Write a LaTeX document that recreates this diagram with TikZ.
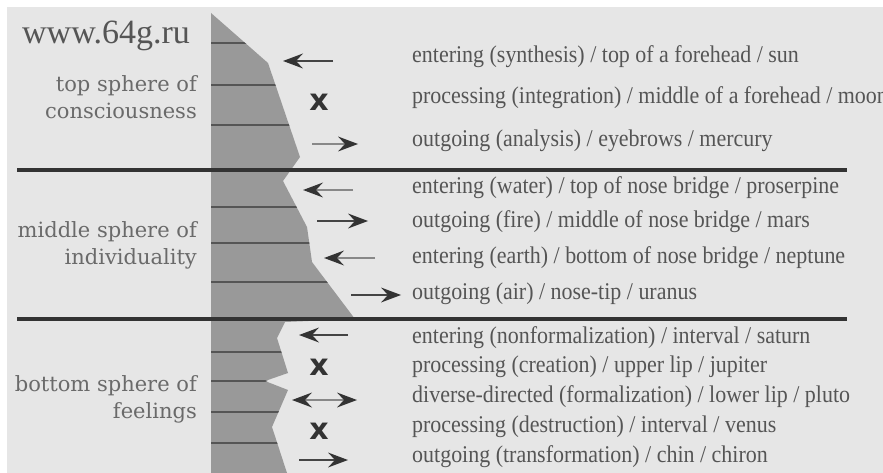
\documentclass[tikz,border=0pt]{standalone}
\usepackage{fontspec}
\setmainfont{Liberation Serif}
\newfontfamily\labelfont{DejaVu Serif}
\newfontfamily\xfont{DejaVu Sans}
\definecolor{bgc}{HTML}{E6E6E6}
\definecolor{polyc}{HTML}{999999}
\definecolor{thinc}{HTML}{555555}
\definecolor{thickc}{HTML}{333333}
\definecolor{txtc}{HTML}{555555}
\definecolor{lblc}{HTML}{6A6A6A}
\definecolor{headc}{HTML}{333333}
\definecolor{shaftd}{HTML}{444444}
\definecolor{shaftl}{HTML}{888888}
\newcommand\nt[1]{\scalebox{0.915}[1]{#1}}
% arrow with left-pointing head: tail x, tip x, y, shaft colour
\newcommand\arrL[4]{%
  \draw[shaft, draw=#4] (#1,#3) -- ({#2+13},#3);
  \fill[headc] (#2,#3) -- ++(20,-7.5) -- ++(-7,7.5) -- ++(7,7.5) -- cycle;}
% arrow with right-pointing head: tail x, tip x, y, shaft colour
\newcommand\arrR[4]{%
  \draw[shaft, draw=#4] (#1,#3) -- ({#2-13},#3);
  \fill[headc] (#2,#3) -- ++(-20,-7.5) -- ++(7,7.5) -- ++(-7,7.5) -- cycle;}
\tikzset{
  rt/.style={anchor=west, inner sep=0pt, text height=16pt, text depth=5.5pt,
    font=\fontsize{24}{28}\selectfont, text=txtc},
  lbl/.style={anchor=east, align=right, inner sep=0pt,
    font=\labelfont\fontsize{21}{27}\selectfont, text=lblc},
  xmark/.style={inner sep=0pt, font=\xfont\bfseries\fontsize{30}{30}\selectfont, text=headc},
  shaft/.style={line width=2.3pt},
  thinline/.style={draw=thinc, line width=2pt},
  thickline/.style={draw=thickc, line width=4pt}
}
\begin{document}
\begin{tikzpicture}[x=1pt,y=-1pt]
\useasboundingbox (0,0) rectangle (883,473);
\clip (0,0) rectangle (883,473);
\fill[white] (0,0) rectangle (883,473);
\fill[bgc] (7,7) rectangle (883,473);
% gray column
\def\colpath{(211,13) -- (268,63) -- (300,157) -- (283,181) -- (307,227) -- (312,262) -- (355,319) -- (285,322) -- (277,338) -- (288,373) -- (265,381) -- (288,390) -- (272,427) -- (287,473) -- (211,473) -- cycle}
\fill[polyc] \colpath;
\begin{scope}
\clip \colpath;
\foreach \yy in {43,85,125,207,243,282,352,381,412,443}
  \draw[thinline] (211,\yy) -- (400,\yy);
\end{scope}
% thick separators
\draw[thickline] (17,170) -- (847,170);
\draw[thickline] (17,319) -- (847,319);
% title and labels
\node[inner sep=0pt, anchor=base west, text=txtc, font=\fontsize{34}{34}\selectfont] (site) at (22,44) {www.64g.ru};
\node[lbl] (ltop) at (197,97) {top sphere of\\consciousness};
\node[lbl] (lmid) at (197,245) {middle sphere of\\individuality};
\node[lbl] (lbot) at (197,399) {bottom sphere of\\feelings};
% arrows and marks: top
\arrL{333}{283}{61}{shaftd}
\node[xmark] (x1) at (319,102) {x};
\arrR{312}{358}{144}{shaftl}
% middle
\arrL{353}{303}{190}{shaftl}
\arrR{317}{368}{221}{shaftd}
\arrL{375}{324}{258}{shaftl}
\arrR{351}{401}{295}{shaftd}
% bottom
\arrL{348}{299}{335}{shaftd}
\node[xmark] (x2) at (319,367) {x};
\draw[shaft, draw=shaftl] (305,400) -- (344,400);
\fill[headc] (292,400) -- ++(20,-7.5) -- ++(-7,7.5) -- ++(7,7.5) -- cycle;
\fill[headc] (357,400) -- ++(-20,-7.5) -- ++(7,7.5) -- ++(-7,7.5) -- cycle;
\node[xmark] (x3) at (319,431) {x};
\arrR{299}{348}{460}{shaftd}
% right texts
\node[rt] (t1) at (412,57) {\nt{entering (synthesis) / top of a forehead / sun}};
\node[rt] (t2) at (412,98) {\nt{processing (integration) / middle of a forehead / moon}};
\node[rt] (t3) at (412,141) {\nt{outgoing (analysis) / eyebrows / mercury}};
\node[rt] (m1) at (412,188) {\nt{entering (water) / top of nose bridge / proserpine}};
\node[rt] (m2) at (412,222) {\nt{outgoing (fire) / middle of nose bridge / mars}};
\node[rt] (m3) at (412,258) {\nt{entering (earth) / bottom of nose bridge / neptune}};
\node[rt] (m4) at (412,294) {\nt{outgoing (air) / nose-tip / uranus}};
\node[rt] (b1) at (412,338) {\nt{entering (nonformalization) / interval / saturn}};
\node[rt] (b2) at (412,367) {\nt{processing (creation) / upper lip / jupiter}};
\node[rt] (b3) at (412,397) {\nt{diverse-directed (formalization) / lower lip / pluto}};
\node[rt] (b4) at (412,427) {\nt{processing (destruction) / interval / venus}};
\node[rt] (b5) at (412,457) {\nt{outgoing (transformation) / chin / chiron}};
\end{tikzpicture}
\end{document}
